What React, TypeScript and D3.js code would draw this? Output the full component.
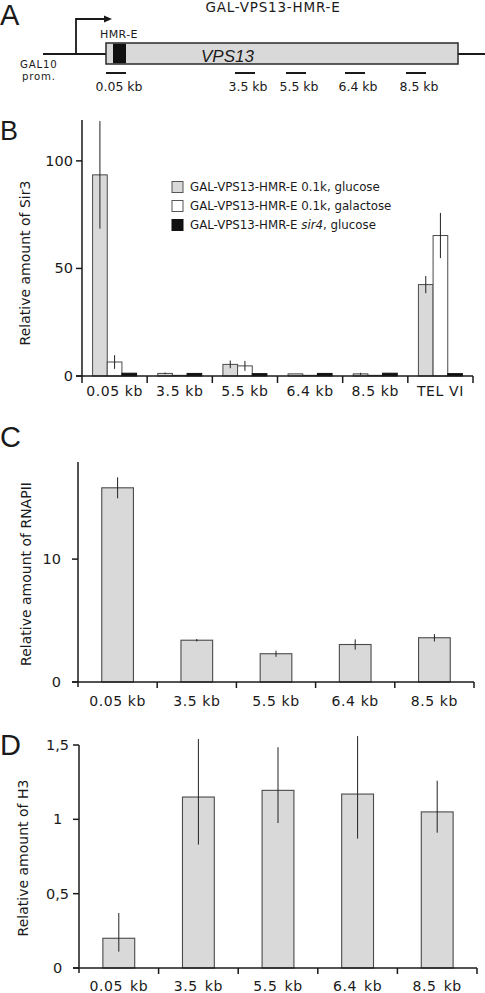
import React from 'react';
import * as d3 from 'd3';

// ---------- DATA ----------
const siteLabels = ['0.05 kb', '3.5 kb', '5.5 kb', '6.4 kb', '8.5 kb'];

const bCategories = ['0.05 kb', '3.5 kb', '5.5 kb', '6.4 kb', '8.5 kb', 'TEL VI'];
const bSeriesNames = ['glucose', 'galactose', 'sir4'];
const bGlucose = [93.5, 1.2, 5.4, 1.0, 1.0, 42.5];
const bGlucoseErr = [25, 0.4, 1.8, 0, 0.5, 4];
const bGalactose = [6.5, 0.3, 4.7, 0.3, 0.3, 65.3];
const bGalactoseErr = [3.2, 0, 2.3, 0, 0, 10.5];
const bSir4 = [1.3, 1.2, 1.1, 1.2, 1.3, 1.1];
const bSir4Err = [0, 0, 0, 0, 0, 0];
const bTicks = [0, 50, 100];

const cCategories = ['0.05 kb', '3.5 kb', '5.5 kb', '6.4 kb', '8.5 kb'];
const cValues = [15.8, 3.4, 2.3, 3.05, 3.6];
const cErr = [0.85, 0.1, 0.25, 0.42, 0.3];
const cTicks = [0, 10];

const dCategories = ['0.05 kb', '3.5 kb', '5.5 kb', '6.4 kb', '8.5 kb'];
const dValues = [0.2, 1.15, 1.195, 1.17, 1.05];
const dErrHigh = [0.17, 0.39, 0.29, 0.39, 0.21];
const dErrLow = [0.09, 0.32, 0.22, 0.3, 0.14];
const dTicks = [0, 0.5, 1, 1.5];

// ---------- STYLE ----------
const FONT = '"DejaVu Sans", Verdana, sans-serif';
const GREY = '#d9d9d9';
const BAR_STROKE = '#4a4a4a';
const AXIS = '#1a1a1a';
const TXT = '#1a1a1a';

const markerPos = [116, 245, 296, 355, 416]; // schematic positions in panel A

function PanelA() {
  return (
    <g>
      <text x={0} y={25} fontFamily='"Liberation Sans", Arial, sans-serif' fontSize={29} fill={TXT}>A</text>
      <text x={273} y={12} textAnchor="middle" fontFamily={FONT} fontSize={13.5} letterSpacing={0.8} fill={TXT}>GAL-VPS13-HMR-E</text>
      <line x1={43} x2={485} y1={54} y2={54} stroke={AXIS} strokeWidth={1.8} />
      <path d="M76,54 V19 H106" fill="none" stroke={AXIS} strokeWidth={1.8} />
      <path d="M104,15.5 L112,19 L104,22.5 Z" fill={AXIS} />
      <rect x={106} y={43} width={352} height={21} fill={GREY} stroke="#2a2a2a" strokeWidth={1.5} />
      <rect x={113} y={43.8} width={13} height={19.4} fill="#111" />
      <text x={100} y={37.5} fontFamily={FONT} fontSize={11} letterSpacing={0.4} fill={TXT}>HMR-E</text>
      <text x={201} y={61.5} fontFamily='"Liberation Sans", Arial, sans-serif' fontStyle="italic" fontSize={17} fill={TXT}>VPS13</text>
      <text x={20} y={67.5} fontFamily={FONT} fontSize={10.2} letterSpacing={0.8} fill={TXT}>GAL10</text>
      <text x={22} y={79.5} fontFamily={FONT} fontSize={10.2} letterSpacing={0.8} fill={TXT}>prom.</text>
      {siteLabels.map((l, i) => (
        <g key={l}>
          <line x1={markerPos[i] - 10} x2={markerPos[i] + 10} y1={73} y2={73} stroke={AXIS} strokeWidth={2} />
          <text x={markerPos[i] + 3} y={90.5} textAnchor="middle" fontFamily={FONT} fontSize={12.5} fill={TXT}>{l}</text>
        </g>
      ))}
    </g>
  );
}

function PanelB() {
  const x = d3.scaleBand<string>().domain(bCategories).range([82, 473]);
  const y = d3.scaleLinear().domain([0, 119]).range([376, 120]);
  const groupW = 44;
  const inner = d3.scaleBand<string>().domain(bSeriesNames).range([0, groupW]);
  const series = [
    { name: 'glucose', vals: bGlucose, err: bGlucoseErr, fill: GREY },
    { name: 'galactose', vals: bGalactose, err: bGalactoseErr, fill: '#ffffff' },
    { name: 'sir4', vals: bSir4, err: bSir4Err, fill: '#111111' },
  ];
  const boundaries = bCategories.map((c) => (x(c) as number) + x.bandwidth());
  return (
    <g>
      <text x={0} y={140} fontFamily='"Liberation Sans", Arial, sans-serif' fontSize={27} fill={TXT}>B</text>
      {bCategories.map((c, i) => {
        const gx = (x(c) as number) + x.bandwidth() / 2 - groupW / 2;
        return series.map((s) => {
          const bx = gx + (inner(s.name) as number);
          const v = s.vals[i];
          const e = s.err[i];
          const cx = bx + inner.bandwidth() / 2;
          return (
            <g key={c + s.name}>
              <rect x={bx} y={y(v)} width={inner.bandwidth()} height={y(0) - y(v)} fill={s.fill} stroke={s.name === 'sir4' ? '#111' : BAR_STROKE} strokeWidth={1} />
              {e > 0 && <line x1={cx} x2={cx} y1={y(v + e)} y2={y(Math.max(0, v - e))} stroke="#222" strokeWidth={1} />}
            </g>
          );
        });
      })}
      {/* axes */}
      <line x1={82} x2={82} y1={120} y2={383} stroke={AXIS} strokeWidth={1.5} />
      <line x1={76} x2={473} y1={376} y2={376} stroke={AXIS} strokeWidth={1.5} />
      {bTicks.map((t) => (
        <g key={t}>
          <line x1={76} x2={82} y1={y(t)} y2={y(t)} stroke={AXIS} strokeWidth={1.5} />
          <text x={73} y={y(t) + 5} textAnchor="end" fontFamily={FONT} fontSize={14.5} fill={TXT}>{t}</text>
        </g>
      ))}
      {boundaries.map((b, i) => (
        <line key={i} x1={b} x2={b} y1={376} y2={383} stroke={AXIS} strokeWidth={1.5} />
      ))}
      {bCategories.map((c) => (
        <text key={c} x={(x(c) as number) + x.bandwidth() / 2} y={396} textAnchor="middle" fontFamily={FONT} fontSize={14} letterSpacing={0.6} fill={TXT}>{c}</text>
      ))}
      <text transform="translate(25,263) rotate(-90)" textAnchor="middle" dominantBaseline="central" fontFamily={FONT} fontSize={14} fill={TXT}>Relative amount of Sir3</text>
      {/* legend */}
      {series.map((s, i) => (
        <g key={s.name}>
          <rect x={172} y={181.5 + i * 19} width={11} height={11} fill={s.fill} stroke={s.name === 'sir4' ? '#111' : '#555'} strokeWidth={1} />
          <text x={190} y={191 + i * 19} fontFamily={FONT} fontSize={11.8} fill={TXT}>
            {i === 0 && 'GAL-VPS13-HMR-E 0.1k, glucose'}
            {i === 1 && 'GAL-VPS13-HMR-E 0.1k, galactose'}
            {i === 2 && (<>GAL-VPS13-HMR-E <tspan fontStyle="italic">sir4</tspan>, glucose</>)}
          </text>
        </g>
      ))}
    </g>
  );
}

function SingleBarPanel(props: {
  letter: string; letterY: number; cats: string[]; vals: number[]; errHi: number[]; errLo: number[];
  ticks: number[]; fmt: (t: number) => string; x0: number; x1: number; yBase: number; yTop: number;
  axisTop: number; domainMax: number; labelX: number; labelAnchor: 'end' | 'middle'; ylab: string; ylabX: number; ylabY: number;
  xLabY: number; barFrac: number; wordSpacing: number;
}) {
  const p = props;
  const x = d3.scaleBand<string>().domain(p.cats).range([p.x0, p.x1]);
  const y = d3.scaleLinear().domain([0, p.domainMax]).range([p.yBase, p.yTop]);
  const bw = x.bandwidth() * p.barFrac;
  return (
    <g>
      <text x={0} y={p.letterY} fontFamily='"Liberation Sans", Arial, sans-serif' fontSize={29} fill={TXT}>{p.letter}</text>
      {p.cats.map((c, i) => {
        const cx = (x(c) as number) + x.bandwidth() / 2;
        const v = p.vals[i];
        return (
          <g key={c}>
            <rect x={cx - bw / 2} y={y(v)} width={bw} height={y(0) - y(v)} fill={GREY} stroke={BAR_STROKE} strokeWidth={1.1} />
            <line x1={cx} x2={cx} y1={y(v + p.errHi[i])} y2={y(v - p.errLo[i])} stroke="#222" strokeWidth={1} />
          </g>
        );
      })}
      <line x1={p.x0} x2={p.x0} y1={p.axisTop} y2={p.yBase + 5} stroke={AXIS} strokeWidth={1.5} />
      <line x1={p.x0 - 6} x2={p.x1} y1={p.yBase} y2={p.yBase} stroke={AXIS} strokeWidth={1.5} />
      {p.ticks.map((t) => (
        <g key={t}>
          <line x1={p.x0 - 6} x2={p.x0} y1={y(t)} y2={y(t)} stroke={AXIS} strokeWidth={1.5} />
          <text x={p.labelX} y={y(t) + 5} textAnchor={p.labelAnchor} fontFamily={FONT} fontSize={14.5} fill={TXT}>{p.fmt(t)}</text>
        </g>
      ))}
      {p.cats.map((c) => (
        <line key={'t' + c} x1={(x(c) as number) + x.bandwidth()} x2={(x(c) as number) + x.bandwidth()} y1={p.yBase} y2={p.yBase + 6} stroke={AXIS} strokeWidth={1.5} />
      ))}
      {p.cats.map((c) => (
        <text key={'l' + c} x={(x(c) as number) + x.bandwidth() / 2} y={p.xLabY} textAnchor="middle" fontFamily={FONT} fontSize={14} letterSpacing={0.6} wordSpacing={p.wordSpacing} fill={TXT}>{c}</text>
      ))}
      <text transform={`translate(${p.ylabX},${p.ylabY}) rotate(-90)`} textAnchor="middle" dominantBaseline="central" fontFamily={FONT} fontSize={14} fill={TXT}>{p.ylab}</text>
    </g>
  );
}

export default function App() {
  return (
    <svg width={485} height={993} style={{ position: 'absolute', left: 0, top: 0, background: '#fff' }}>
      <rect width={485} height={993} fill="#fff" />
      <PanelA />
      <PanelB />
      <SingleBarPanel
        letter="C" letterY={447} cats={cCategories} vals={cValues} errHi={cErr} errLo={cErr}
        ticks={cTicks} fmt={(t) => String(t)} x0={78} x1={474} yBase={682} yTop={462}
        axisTop={462} domainMax={17.9} labelX={61} labelAnchor="end" ylab="Relative amount of RNAPII"
        ylabX={26} ylabY={574} xLabY={706} barFrac={0.4} wordSpacing={0}
      />
      <SingleBarPanel
        letter="D" letterY={755} cats={dCategories} vals={dValues} errHi={dErrHigh} errLo={dErrLow}
        ticks={dTicks} fmt={(t) => String(t).replace('.', ',')} x0={79} x1={477} yBase={968} yTop={745}
        axisTop={745} domainMax={1.5} labelX={57.5} labelAnchor="middle" ylab="Relative amount of H3"
        ylabX={23} ylabY={858} xLabY={991} barFrac={0.4} wordSpacing={2}
      />
    </svg>
  );
}
